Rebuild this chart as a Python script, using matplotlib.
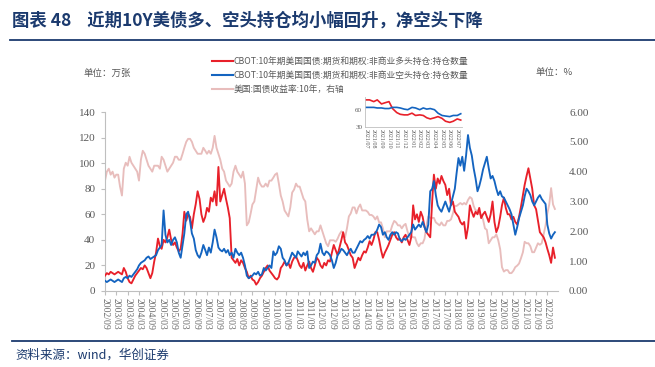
import matplotlib
matplotlib.use("Agg")
import matplotlib.pyplot as plt
from matplotlib.lines import Line2D
import pandas as pd

plt.rcParams['font.family'] = ['Noto Sans CJK SC', 'DejaVu Sans']

# ---------------- data (monthly, 2002/09 - 2022/07) ----------------
start_month = '2002-09-01'
long_pos = [  # 非商业多头持仓, 万张
    12,14,13,15,14,13,14,15,14,13,18,15,
    10,7,6,9,12,14,16,18,17,20,18,14,
    10,14,23,30,41,35,33,40,38,42,48,40,
    36,38,34,31,33,45,62,55,60,58,49,60,
    68,78,72,60,54,58,65,62,73,70,78,67,
    97,70,75,80,72,65,57,26,24,22,25,20,
    24,22,18,15,10,12,9,8,5,7,10,12,
    15,18,20,16,14,12,10,9,11,18,20,23,
    20,22,18,23,26,27,24,20,18,22,16,20,
    23,18,15,20,26,24,20,18,22,20,24,23,
    30,36,32,28,34,40,46,38,36,32,28,26,
    18,22,26,24,28,31,30,34,39,36,40,46,
    46,40,32,26,30,33,36,40,44,46,42,40,
    41,38,42,44,40,36,42,67,56,60,54,62,
    58,50,46,44,42,70,91,80,88,84,90,86,
    83,75,80,67,70,62,60,58,54,52,54,41,
    50,67,62,58,62,60,65,57,60,62,58,54,
    60,70,54,46,50,58,67,73,65,60,60,56,
    58,54,52,58,66,75,83,90,96,88,80,67,
    64,55,46,44,42,38,33,28,22,34,26]
short_pos = [  # 非商业空头持仓, 万张
    8,7,8,9,8,7,8,9,8,7,10,11,
    10,12,11,13,15,17,20,22,23,24,26,27,
    25,26,27,28,32,34,36,63,44,38,40,36,
    40,42,38,30,26,36,45,60,62,55,45,41,
    32,28,26,30,36,32,28,34,30,38,48,42,
    34,32,31,33,30,32,28,30,26,33,30,28,
    30,26,20,12,10,11,12,14,13,15,12,13,
    18,16,18,20,18,31,28,30,35,33,26,24,
    20,22,26,30,28,26,31,29,27,30,28,31,
    18,20,23,22,28,30,37,30,28,31,30,28,
    24,18,22,28,30,33,32,30,28,31,33,30,
    30,33,36,39,38,40,41,43,41,44,44,45,
    48,52,50,44,46,42,40,44,46,44,46,45,
    40,39,41,40,42,44,46,52,48,50,52,50,
    54,50,46,52,78,80,86,75,67,64,62,66,
    70,66,62,68,74,80,92,104,98,105,94,106,
    122,112,106,96,88,78,82,88,95,100,105,96,
    88,90,86,80,75,78,74,73,70,67,64,60,
    52,44,50,57,62,67,74,80,78,75,70,67,
    70,73,75,72,70,68,52,45,41,44,46]
yield_10y = [  # 美国10年国债收益率, %
    3.7,4.0,4.1,3.9,4.0,3.8,3.9,3.9,3.5,3.2,4.1,4.3,
    4.2,4.5,4.3,4.2,4.1,4.0,3.7,4.4,4.7,4.6,4.4,4.2,
    4.1,4.0,4.2,4.2,4.2,4.1,4.5,4.4,4.2,4.0,4.1,4.2,
    4.3,4.5,4.5,4.4,4.4,4.6,4.8,5.0,5.1,5.1,5.0,4.8,
    4.7,4.6,4.6,4.6,4.8,4.7,4.6,4.7,4.6,4.8,5.2,4.8,
    4.6,4.4,4.1,4.0,3.7,3.6,3.5,3.6,4.0,4.2,4.0,3.9,
    3.8,4.0,3.6,2.2,2.3,2.6,2.9,3.0,3.4,3.8,3.6,3.5,
    3.5,3.6,3.5,3.7,3.7,3.8,3.9,3.95,3.6,3.2,3.0,2.7,
    2.6,2.5,2.8,3.3,3.4,3.6,3.5,3.5,3.3,3.1,3.0,2.4,
    2.0,2.1,2.0,1.9,2.0,2.0,2.2,2.0,1.8,1.6,1.5,1.7,
    1.7,1.7,1.65,1.75,1.9,2.0,1.95,1.8,2.1,2.5,2.6,2.8,
    2.8,2.6,2.8,2.9,2.7,2.7,2.7,2.65,2.55,2.55,2.5,2.4,
    2.5,2.3,2.3,2.1,1.8,2.0,2.0,2.0,2.2,2.35,2.3,2.2,
    2.2,2.1,2.2,2.25,2.0,1.8,1.85,1.8,1.8,1.6,1.5,1.6,
    1.6,1.75,2.2,2.5,2.45,2.45,2.45,2.3,2.25,2.2,2.3,2.2,
    2.2,2.35,2.35,2.4,2.6,2.85,2.85,2.9,2.95,2.9,2.95,2.9,
    3.05,3.15,3.1,2.85,2.7,2.7,2.6,2.55,2.4,2.1,2.05,1.6,
    1.7,1.8,1.8,1.9,1.7,1.4,0.8,0.65,0.7,0.7,0.6,0.6,
    0.68,0.8,0.85,0.92,1.1,1.3,1.65,1.6,1.6,1.5,1.3,1.3,
    1.45,1.6,1.55,1.6,1.9,2.2,2.6,2.9,3.45,2.9,2.75]

# inset: 2021/07 - 2022/07, half-monthly
inset_start = '2021-07-01'
inset_long = [77,77,74,77,70,72,74,62,55,52,51,51,54,50,51,50,46,44,46,48,45,40,38,40,44,42]
inset_short = [64,64,64,63,63,62,62,64,64,63,61,60,64,63,60,63,61,62,60,54,50,49,48,50,50,53]

tick_start, tick_end = '2002-09-01', '2022-03-01'
inset_tick_start, inset_tick_end = '2021-07-01', '2022-07-01'

series_names = ['CBOT:10年期美国国债:期货和期权:非商业多头持仓:持仓数量',
                'CBOT:10年期美国国债:期货和期权:非商业空头持仓:持仓数量',
                '美国:国债收益率:10年，右轴']
title = '图表 48    近期10Y美债多、空头持仓均小幅回升，净空头下降'
source = '资料来源：wind，华创证券'

# ---------------- styles ----------------
RED = '#E8202A'
BLUE = '#1464C0'
PINK = '#E8BDBC'
NAVY = '#1B3A6E'
GRAY = '#595959'
SPINE = '#BFBFBF'
W, H = 655, 367

dates = pd.date_range(start_month, periods=len(long_pos), freq='MS')
inset_dates = pd.date_range(inset_start, periods=len(inset_long), freq='SMS')

fig = plt.figure(figsize=(W / 100, H / 100), dpi=100)

def fx(px):
    return px / W

def fy(py):
    return 1 - py / H

ax = fig.add_axes([fx(105), fy(291), fx(558) - fx(105), fy(112) - fy(291)])
ax2 = ax.twinx()

ax.plot(dates, long_pos, color=RED, lw=1.35, zorder=3)
ax.plot(dates, short_pos, color=BLUE, lw=1.35, zorder=4)
ax2.plot(dates, yield_10y, color=PINK, lw=1.35)
ax.set_zorder(ax2.get_zorder() + 1)
ax.patch.set_visible(False)

ax.set_ylim(0, 140)
ax.set_yticks(range(0, 141, 20))
ax2.set_ylim(0, 6)
ax2.set_yticks(range(0, 7))
ax2.set_yticklabels([f'{v:.2f}' for v in range(0, 7)])
ax.set_xlim(pd.Timestamp('2002-09-01'), pd.Timestamp('2022-08-20'))

ticks = pd.date_range(tick_start, tick_end, freq='6MS')
ax.set_xticks(ticks)
ax.set_xticklabels([t.strftime('%Y/%m') for t in ticks], rotation=-90,
                   family=['Liberation Serif'], fontsize=7, color='#6E6E6E')
for lab in ax.get_yticklabels():
    lab.set_family(['Liberation Serif'])
for lab in ax2.get_yticklabels():
    lab.set_family(['Liberation Serif'])
ax.tick_params(axis='y', labelsize=8, colors=GRAY, length=3, color=SPINE, pad=4)
ax.tick_params(axis='x', length=3, color=SPINE, pad=2)
ax2.tick_params(axis='y', labelsize=8, colors=GRAY, length=0, pad=8)

for a in (ax, ax2):
    a.spines['top'].set_visible(False)
    a.spines['right'].set_visible(False)
ax2.spines['left'].set_visible(False)
ax2.spines['bottom'].set_visible(False)
ax.spines['left'].set_color(SPINE)
ax.spines['bottom'].set_color(SPINE)

# ---------------- inset ----------------
axi = fig.add_axes([fx(365), fy(127), fx(462) - fx(365), fy(97) - fy(127)])
axi.patch.set_visible(False)
axi.plot(inset_dates, inset_long, color=RED, lw=1.2)
axi.plot(inset_dates, inset_short, color=BLUE, lw=1.2)
axi.set_ylim(30, 82)
axi.set_yticks([30, 60])
axi.set_xlim(pd.Timestamp('2021-06-27'), pd.Timestamp('2022-07-20'))
iticks = pd.date_range(inset_tick_start, inset_tick_end, freq='MS')
axi.set_xticks(iticks)
axi.set_xticklabels([t.strftime('%Y/%m') for t in iticks], rotation=-90,
                    family=['Liberation Serif'], fontsize=4.3, color=GRAY)
for lab in axi.get_yticklabels():
    lab.set_family(['Liberation Serif'])
axi.tick_params(axis='y', labelsize=5, colors=GRAY, length=0, pad=2)
axi.tick_params(axis='x', length=0, pad=1.5)
for s in ('top', 'right'):
    axi.spines[s].set_visible(False)
axi.spines['left'].set_color(SPINE)
axi.spines['bottom'].set_color(SPINE)
axi.spines['left'].set_linewidth(0.6)
axi.spines['bottom'].set_linewidth(0.6)

# ---------------- header / legend / footer ----------------
fig.text(fx(12), fy(21), title, fontsize=12.5, fontweight='bold', color=NAVY,
         va='center', ha='left')
fig.add_artist(Line2D([fx(10), 1.0], [fy(40), fy(40)], color=NAVY, lw=1.3))

leg_colors = [RED, BLUE, PINK]
leg_y = [61, 75, 89]
for name, c, yy in zip(series_names, leg_colors, leg_y):
    fig.add_artist(Line2D([fx(212), fx(233)], [fy(yy), fy(yy)], color=c, lw=1.5))
    fig.text(fx(234), fy(yy), name, fontsize=6.3, color=GRAY, va='center', ha='left')

fig.text(fx(84), fy(73), '单位：万张', fontsize=6.8, color=GRAY, va='center', ha='left')
fig.text(fx(536), fy(73), '单位：%', fontsize=6.8, color=GRAY, va='center', ha='left')

fig.add_artist(Line2D([fx(12), 1.0], [fy(341), fy(341)], color=NAVY, lw=1.3))
fig.text(fx(15), fy(355), source, fontsize=9, color=NAVY, style='italic',
         va='center', ha='left')

fig.savefig('out.png', dpi=100)
